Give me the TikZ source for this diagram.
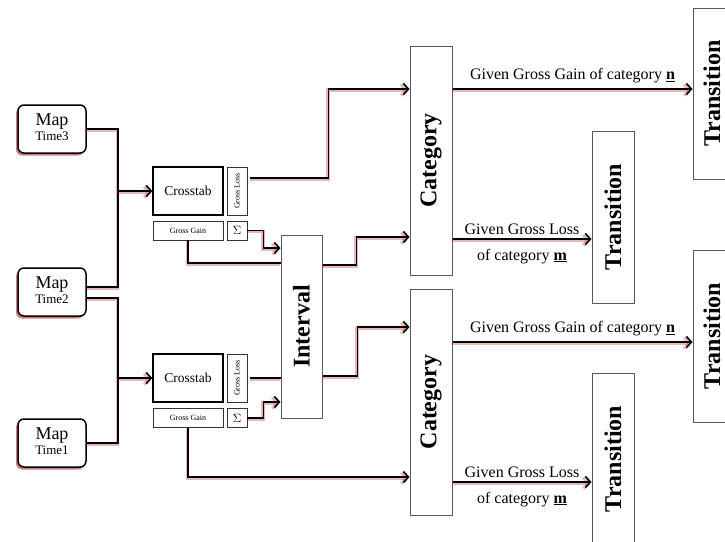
\documentclass[tikz,border=0pt]{standalone}
\usepackage{fontspec}
\usepackage{graphicx}
\setmainfont{Liberation Serif}
\usetikzlibrary{arrows.meta,shadows}

\newcommand{\maptext}[1]{\begin{tabular}{@{}c@{}}\fontsize{18}{18}\selectfont Map\\[2pt]\fontsize{13}{13}\selectfont #1\end{tabular}}

\begin{document}
\begin{tikzpicture}[x=1pt,y=-1pt,
    >={Straight Barb[length=5pt,width=11pt]},
    mapbox/.style={draw,line width=1.5pt,rounded corners=6pt,fill=white,
      minimum width=68pt,minimum height=48pt,inner sep=0pt,
      drop shadow={shadow xshift=-2pt,shadow yshift=-2.5pt,fill=red!60!black,opacity=.5}},
    ctabbox/.style={draw,line width=1.4pt,fill=white,minimum width=70pt,minimum height=48pt,
      inner sep=0pt,font=\fontsize{13.5}{14}\selectfont},
    smallbox/.style={draw=black!80,line width=.8pt,fill=white,inner sep=0pt,
      font=\fontsize{8}{8}\selectfont},
    bigbox/.style={draw=black!65,line width=1pt,fill=white,inner sep=0pt,minimum width=42pt,
      font=\fontsize{24}{24}\selectfont\bfseries,
      drop shadow={shadow xshift=1pt,shadow yshift=-1pt,fill=black!40,opacity=.4}},
    conn/.style={line width=1.6pt,
      preaction={draw=red!65!black,draw opacity=.28,line width=3.6pt,
        transform canvas={shift={(-0.6pt,-1pt)}}}},
    lbl/.style={font=\fontsize{16}{16}\selectfont,inner sep=2pt}]
  \useasboundingbox (0,0) rectangle (725,541);

  \node[mapbox] (map3) at (52,129) {\maptext{Time3}};
  \node[mapbox] (map2) at (52,292) {\maptext{Time2}};
  \node[mapbox] (map1) at (52,443) {\maptext{Time1}};

  \node[ctabbox] (ctabA) at (188,191) {Crosstab};
  \node[smallbox,minimum width=20pt,minimum height=48pt] (lossA) at (237,191) {\rotatebox{90}{Gross Loss}};
  \node[smallbox,minimum width=70pt,minimum height=19pt] (gainA) at (188,230.5) {Gross Gain};
  \node[smallbox,minimum width=20pt,minimum height=19pt,font=\fontsize{13}{13}\selectfont] (sumA) at (237,230.5) {$\Sigma$};

  \node[ctabbox] (ctabB) at (188,378) {Crosstab};
  \node[smallbox,minimum width=20pt,minimum height=48pt] (lossB) at (237,378) {\rotatebox{90}{Gross Loss}};
  \node[smallbox,minimum width=70pt,minimum height=19pt] (gainB) at (188,418) {Gross Gain};
  \node[smallbox,minimum width=20pt,minimum height=19pt,font=\fontsize{13}{13}\selectfont] (sumB) at (237,418) {$\Sigma$};

  \node[bigbox,minimum width=41pt,minimum height=183pt] (interval) at (301.5,326.5) {\rotatebox{90}{Interval}};
  \node[bigbox,minimum height=229pt] (catA) at (431,160.5) {\rotatebox{90}{Category}};
  \node[bigbox,minimum height=226pt] (catB) at (431,402) {\rotatebox{90}{Category}};

  \node[bigbox,minimum width=38pt,minimum height=171pt] (transA1) at (712,93.5) {\rotatebox{90}{Transition}};
  \node[bigbox,minimum height=172pt] (transA2) at (613,217) {\rotatebox{90}{Transition}};
  \node[bigbox,minimum width=38pt,minimum height=172pt] (transB1) at (712,336) {\rotatebox{90}{Transition}};
  \node[bigbox,minimum height=172pt] (transB2) at (613,459) {\rotatebox{90}{Transition}};

  \coordinate (busA) at (118,191);
  \coordinate (busB) at (118,378);

  \draw[conn] (map3.east) -| (busA) |- ([yshift=5pt]map2.east);
  \draw[conn] ([yshift=-6pt]map2.east) -| (busB) |- (map1.east);
  \draw[conn,->] (busA) -- (ctabA);
  \draw[conn,->] (busB) -- (ctabB);

  \draw[conn,->] ([xshift=3pt,yshift=13pt]lossA.east) -- ++(78,0) |- ([yshift=71.5pt]catA.west);
  \draw[conn,->] (sumA.east) -- ++(16,0) |- ([yshift=78.5pt]interval.west);
  \draw[conn] (gainA.south) |- ([yshift=63.5pt]interval.west);
  \draw[conn,->] ([yshift=61.5pt]interval.east) -- ++(34,0) |- ([yshift=-76.5pt]catA.west);

  \draw[conn] ([xshift=3pt]lossB.east) -- (interval.west |- lossB.east);
  \draw[conn,->] (sumB.east) -- ++(16,0) |- ([yshift=-75.5pt]interval.west);
  \draw[conn,->] ([yshift=-49.5pt]interval.east) -- ++(35,0) |- ([yshift=75pt]catB.west);
  \draw[conn,->] (gainB.south) |- ([yshift=-75pt]catB.west);

  \draw[conn,->] ([yshift=71.5pt]catA.east) -- node[lbl,above,yshift=3pt] {Given Gross Gain of category \textbf{\underline{n}}} ([yshift=4.5pt]transA1.west);
  \draw[conn,->] ([yshift=-78.5pt]catA.east) -- node[lbl,above,yshift=2pt] {Given Gross Loss} node[lbl,below,yshift=-7pt] {of category \textbf{\underline{m}}} ([yshift=-22pt]transA2.west);
  \draw[conn,->] ([yshift=60pt]catB.east) -- node[lbl,above,yshift=3pt] {Given Gross Gain of category \textbf{\underline{n}}} ([yshift=-6pt]transB1.west);
  \draw[conn,->] ([yshift=-80pt]catB.east) -- node[lbl,above,yshift=2pt] {Given Gross Loss} node[lbl,below,yshift=-7pt] {of category \textbf{\underline{m}}} ([yshift=-23pt]transB2.west);
\end{tikzpicture}
\end{document}
